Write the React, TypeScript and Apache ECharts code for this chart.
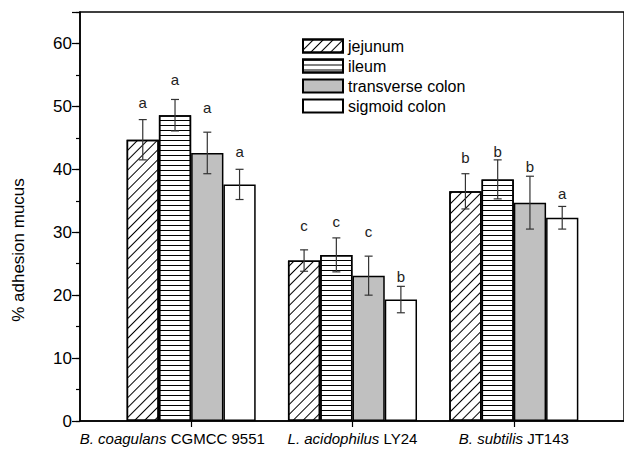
import React, { useEffect, useRef } from "react";
import * as echarts from "echarts";

const FONT = '"Liberation Sans", Arial, sans-serif';

const groupPositions = [1, 2, 3];
const italicParts = ["B. coagulans", "L. acidophilus", "B. subtilis"];
const plainParts = ["CGMCC 9551", "LY24", "JT143"];
const labelPositions = [0.883, 2, 3];

const seriesNames = ["jejunum", "ileum", "transverse colon", "sigmoid colon"];

const jejunum = [44.7, 25.5, 36.5];
const ileum = [48.6, 26.4, 38.4];
const transverse = [42.6, 23.1, 34.7];
const sigmoid = [37.6, 19.3, 32.3];

const jejunumSD = [3.2, 1.7, 2.8];
const ileumSD = [2.5, 2.7, 3.1];
const transverseSD = [3.3, 3.1, 4.2];
const sigmoidSD = [2.4, 2.1, 1.8];

const jejunumLetters = ["a", "c", "b"];
const ileumLetters = ["a", "c", "b"];
const transverseLetters = ["a", "c", "b"];
const sigmoidLetters = ["a", "b", "a"];

const jejunumLetterY = [50.6, 31.0, 41.9];
const ileumLetterY = [54.2, 31.7, 42.9];
const transverseLetterY = [49.8, 30.1, 40.5];
const sigmoidLetterY = [42.9, 23.0, 36.1];

const yTicksMajor = [0, 10, 20, 30, 40, 50, 60];

export default function App() {
  const ref = useRef<HTMLDivElement>(null);

  useEffect(() => {
    document.body.style.margin = "0";
    if (!ref.current) return;
    const chart = echarts.init(ref.current, undefined, { renderer: "svg" });

    const values = [jejunum, ileum, transverse, sigmoid];
    const sds = [jejunumSD, ileumSD, transverseSD, sigmoidSD];
    const letters = [jejunumLetters, ileumLetters, transverseLetters, sigmoidLetters];
    const letterYs = [jejunumLetterY, ileumLetterY, transverseLetterY, sigmoidLetterY];

    const decals: any[] = [
      {
        symbol: "rect",
        symbolSize: 1,
        dashArrayX: [1, 0],
        dashArrayY: [1, 5.5],
        rotation: -Math.PI / 4,
        color: "#000",
      },
      {
        symbol: "rect",
        symbolSize: 1,
        dashArrayX: [1, 0],
        dashArrayY: [1, 3.3],
        rotation: 0,
        color: "#000",
      },
      null,
      null,
    ];
    const fills = ["#ffffff", "#ffffff", "#c0c0c0", "#ffffff"];

    const barSeries = seriesNames.map((name, k) => {
      const itemStyle: any = {
        color: fills[k],
        borderColor: "#000",
        borderWidth: 1.5,
      };
      if (decals[k]) itemStyle.decal = decals[k];
      return {
        type: "bar",
        name,
        data: groupPositions.map((g, i) => [g, values[k][i]]),
        barWidth: "20%",
        barGap: "0%",
        itemStyle,
        z: 2,
      };
    });

    const errData: number[][] = [];
    const errLetters: string[] = [];
    for (let k = 0; k < seriesNames.length; k++) {
      for (let i = 0; i < groupPositions.length; i++) {
        errData.push([groupPositions[i], values[k][i], sds[k][i], k, letterYs[k][i]]);
        errLetters.push(letters[k][i]);
      }
    }

    const errSeries = {
      type: "custom",
      name: "errors",
      data: errData,
      z: 10,
      clip: false,
      encode: { x: 0, y: 1 },
      renderItem: (params: any, api: any) => {
        const x0 = api.value(0);
        const m = api.value(1);
        const s = api.value(2);
        const k = api.value(3);
        const ly = api.value(4);
        const bw = api.size([1, 0])[0] * 0.2;
        const cx = api.coord([x0, m])[0] + (k - 1.5) * bw;
        const top = api.coord([x0, m + s])[1];
        const bot = api.coord([x0, m - s])[1];
        const ty = api.coord([x0, ly])[1];
        const cap = 4;
        const ls = { stroke: "#333", lineWidth: 1.2 };
        return {
          type: "group",
          children: [
            { type: "line", shape: { x1: cx, y1: top, x2: cx, y2: bot }, style: ls },
            { type: "line", shape: { x1: cx - cap, y1: top, x2: cx + cap, y2: top }, style: ls },
            { type: "line", shape: { x1: cx - cap, y1: bot, x2: cx + cap, y2: bot }, style: ls },
            {
              type: "text",
              x: cx,
              y: ty,
              style: {
                text: errLetters[params.dataIndex],
                fill: "#222",
                font: `15px ${FONT}`,
                align: "center",
                verticalAlign: "middle",
              },
            },
          ],
        };
      },
    };

    const option: any = {
      animation: false,
      backgroundColor: "#fff",
      textStyle: { fontFamily: FONT },
      grid: {
        left: 80,
        top: 12,
        right: -4,
        bottom: 28,
        show: true,
        borderColor: "#000",
        borderWidth: 1.5,
        backgroundColor: "transparent",
      },
      legend: {
        orient: "vertical",
        left: 302,
        top: 38,
        padding: 0,
        itemWidth: 40,
        itemHeight: 13,
        itemGap: 4,
        icon: "rect",
        data: seriesNames,
        textStyle: { fontSize: 16, color: "#000", fontFamily: FONT },
      },
      xAxis: {
        type: "value",
        min: 0.311,
        max: 3.683,
        splitLine: { show: false },
        axisLine: { show: true, lineStyle: { color: "#000", width: 1.5 } },
        axisTick: {
          show: true,
          customValues: groupPositions,
          length: 6,
          lineStyle: { color: "#000", width: 1.2 },
        },
        axisLabel: {
          customValues: labelPositions,
          margin: 10,
          fontSize: 15,
          color: "#000",
          fontFamily: FONT,
          formatter: (v: number) => {
            const idx = Math.round(v) - 1;
            return `{i|${italicParts[idx]}} ${plainParts[idx]}`;
          },
          rich: {
            i: { fontStyle: "italic", fontSize: 15, color: "#000", fontFamily: FONT },
          },
        },
      },
      yAxis: [
        {
          type: "value",
          min: 0,
          max: 65,
          interval: 5,
          splitLine: { show: false },
          axisLine: { show: true, lineStyle: { color: "#000", width: 1.5 } },
          axisTick: { show: true, length: 4, lineStyle: { color: "#000", width: 1.2 } },
          axisLabel: {
            fontSize: 17,
            color: "#000",
            margin: 8,
            fontFamily: FONT,
            formatter: (v: number) => (yTicksMajor.indexOf(v) >= 0 ? String(v) : ""),
          },
        },
        {
          type: "value",
          min: 0,
          max: 65,
          interval: 10,
          position: "left",
          splitLine: { show: false },
          axisLine: { show: false },
          axisTick: { show: true, length: 8, lineStyle: { color: "#000", width: 1.2 } },
          axisLabel: { show: false },
        },
      ],
      graphic: [
        {
          type: "text",
          x: 18,
          y: 250,
          rotation: Math.PI / 2,
          style: {
            text: "% adhesion mucus",
            font: `17px ${FONT}`,
            fill: "#000",
            align: "center",
            verticalAlign: "middle",
          },
        },
      ],
      series: [...barSeries, errSeries],
    };

    chart.setOption(option);
    return () => chart.dispose();
  }, []);

  return <div ref={ref} style={{ width: 624, height: 449 }} />;
}
